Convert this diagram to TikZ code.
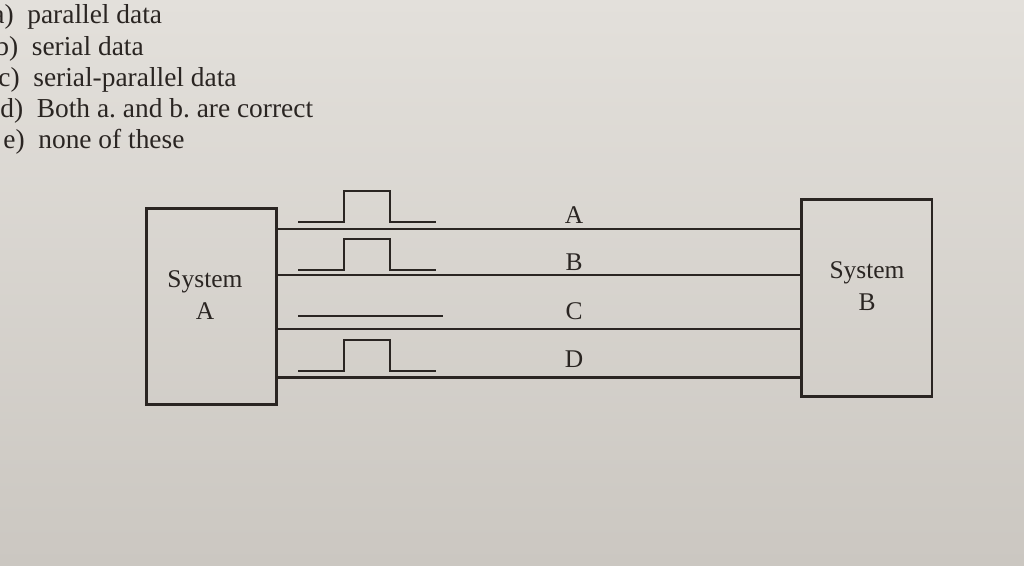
\documentclass[tikz,border=0pt]{standalone}
\usepackage{fontspec}
\setmainfont{Liberation Serif}
\usetikzlibrary{positioning}
\definecolor{PageTop}{HTML}{E3E0DB}
\definecolor{PageLow}{HTML}{CBC7C1}
\definecolor{InkDark}{HTML}{2A2522}

\begin{document}
\frenchspacing
\begin{tikzpicture}[x=0.02cm,y=-0.02cm,
  choice/.style={anchor=base west,inner sep=0pt,text=InkDark,font=\fontsize{15.6}{18}\selectfont},
  sysbox/.style={draw=InkDark,line width=1.7pt,minimum width=2.62cm,minimum height=3.94cm,inner sep=0pt},
  syslbl/.style={align=center,text=InkDark,font=\fontsize{14.5}{16}\selectfont,inner sep=0pt},
  wire/.style={draw=InkDark,line width=1.7pt},
  pulse/.style={draw=InkDark,line width=1.6pt},
  linelbl/.style={text=InkDark,font=\fontsize{14.5}{16}\selectfont,inner sep=0pt}]
  \useasboundingbox (0,0) rectangle (1024,565);
  \shade[top color=PageTop,bottom color=PageLow] (0,0) rectangle (1024,565);
  % answer choices
  \node[choice] (qa) at (-8,23) {a)\ \ parallel data};
  \node[choice] (qb) at (-5,55) {b)\ \ serial data};
  \node[choice] (qc) at (-2,86) {c)\ \ serial-parallel data};
  \node[choice] (qd) at (0,117) {d)\ \ Both a. and b. are correct};
  \node[choice] (qe) at (3,148) {e)\ \ none of these};
  % the two systems
  \node[sysbox] (sa) at (211.5,306.5) {};
  \node[syslbl] (ta) at (205,295) {System\\[2pt]A};
  \node[sysbox] (sb) at (866.5,298) {};
  \node[syslbl] (tb) at (867,286) {System\\[2pt]B};
  % the four lines
  \foreach \y/\l/\ly in {229/A/215, 275/B/262, 329/C/311, 377/D/359} {
    \node[linelbl] (l\l) at (574,\ly) {\l};
    \draw[wire] (sa.east |- 0,\y) -- (sb.west |- 0,\y);
  }
  % signals
  \foreach \y in {222,270,371}
    \draw[pulse] (298,\y) -- ++(46,0) -- ++(0,-31) -- ++(46,0) -- ++(0,31) -- ++(46,0);
  \draw[pulse] (298,316) -- ++(145,0);
\end{tikzpicture}
\end{document}
